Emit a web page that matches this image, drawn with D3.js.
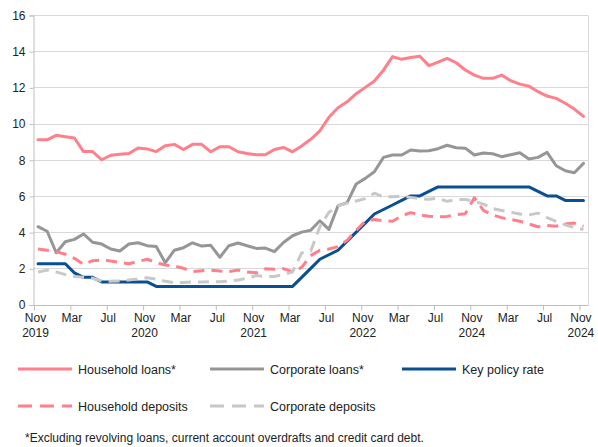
<!DOCTYPE html>
<html>
<head>
<meta charset="utf-8">
<script src="https://cdn.jsdelivr.net/npm/d3@7"></script>
<style>
  html, body { margin: 0; padding: 0; background: #fff; }
  svg { display: block; font-family: "Liberation Sans", Arial, sans-serif; }
</style>
</head>
<body>
<svg id="chart" width="598" height="447"></svg>
<script>
// ---- Data (monthly, Nov 2019 .. Nov 2024) ----
const tickLabels = ["Nov\n2019","Mar","Jul","Nov\n2020","Mar","Jul","Nov\n2021","Mar","Jul","Nov\n2022","Mar","Jul","Nov\n2024","Mar","Jul","Nov\n2024"];
const yTicks = [0, 2, 4, 6, 8, 10, 12, 14, 16];

const householdLoans = [9.1, 9.1, 9.35, 9.27, 9.2, 8.45, 8.45, 8.0, 8.25, 8.3, 8.35, 8.65, 8.6, 8.45, 8.77, 8.85, 8.57, 8.85, 8.85, 8.44, 8.72, 8.72, 8.44, 8.35, 8.28, 8.28, 8.57, 8.68, 8.44, 8.76, 9.13, 9.6, 10.35, 10.87, 11.2, 11.65, 12.0, 12.35, 12.95, 13.7, 13.55, 13.65, 13.72, 13.2, 13.4, 13.6, 13.36, 12.96, 12.68, 12.5, 12.5, 12.68, 12.37, 12.18, 12.07, 11.76, 11.52, 11.39, 11.12, 10.8, 10.4];
const corporateLoans = [4.3, 4.05, 2.86, 3.47, 3.6, 3.9, 3.44, 3.34, 3.07, 2.96, 3.34, 3.41, 3.25, 3.2, 2.31, 3.0, 3.14, 3.41, 3.23, 3.27, 2.61, 3.25, 3.4, 3.25, 3.1, 3.12, 2.92, 3.43, 3.8, 4.0, 4.1, 4.63, 4.15, 5.46, 5.63, 6.66, 6.97, 7.34, 8.13, 8.26, 8.26, 8.54, 8.48, 8.5, 8.61, 8.8, 8.66, 8.64, 8.26, 8.37, 8.33, 8.17, 8.28, 8.39, 8.04, 8.13, 8.41, 7.67, 7.39, 7.28, 7.8];
const keyPolicyRate = [2.25, 2.25, 2.25, 2.25, 1.75, 1.5, 1.5, 1.25, 1.25, 1.25, 1.25, 1.25, 1.25, 1.0, 1.0, 1.0, 1.0, 1.0, 1.0, 1.0, 1.0, 1.0, 1.0, 1.0, 1.0, 1.0, 1.0, 1.0, 1.0, 1.5, 2.0, 2.5, 2.75, 3.0, 3.5, 4.0, 4.5, 5.0, 5.25, 5.5, 5.75, 6.0, 6.0, 6.25, 6.5, 6.5, 6.5, 6.5, 6.5, 6.5, 6.5, 6.5, 6.5, 6.5, 6.5, 6.25, 6.0, 6.0, 5.75, 5.75, 5.75];
const householdDeposits = [3.07, 3.0, 2.92, 2.78, 2.55, 2.22, 2.42, 2.46, 2.4, 2.33, 2.25, 2.38, 2.5, 2.32, 2.18, 2.12, 2.0, 1.82, 1.87, 1.9, 1.85, 1.82, 1.9, 1.8, 1.75, 1.97, 1.95, 1.98, 1.8, 2.05, 2.7, 3.0, 3.07, 3.2, 3.55, 4.1, 4.6, 4.7, 4.62, 4.6, 4.9, 5.08, 4.95, 4.88, 4.85, 4.87, 4.97, 5.02, 5.9, 5.2, 4.95, 4.8, 4.7, 4.6, 4.45, 4.3, 4.37, 4.33, 4.45, 4.5, 4.32];
const corporateDeposits = [1.8, 1.9, 1.8, 1.65, 1.55, 1.5, 1.45, 1.3, 1.28, 1.3, 1.35, 1.42, 1.48, 1.4, 1.28, 1.2, 1.22, 1.25, 1.25, 1.26, 1.26, 1.3, 1.35, 1.45, 1.6, 1.55, 1.55, 1.65, 1.8, 2.85, 2.95, 4.3, 5.1, 5.45, 5.6, 5.72, 5.85, 6.15, 5.95, 5.95, 6.0, 5.92, 5.85, 5.82, 5.87, 5.7, 5.8, 5.8, 5.7, 5.55, 5.3, 5.2, 5.1, 5.0, 4.95, 5.05, 4.8, 4.6, 4.4, 4.25, 4.15];

const seriesNames = ["Household loans*", "Corporate loans*", "Key policy rate", "Household deposits", "Corporate deposits"];
const footnote = "*Excluding revolving loans, current account overdrafts and credit card debt.";

// ---- Styles ----
const styles = [
  { color: "#ff7f8a", dash: null },
  { color: "#969696", dash: null },
  { color: "#0a4f91", dash: null },
  { color: "#ff7f8a", dash: "11,7" },
  { color: "#c8c8c8", dash: "11,7" }
];
const seriesData = [householdLoans, corporateLoans, keyPolicyRate, householdDeposits, corporateDeposits];

const svg = d3.select("#chart");
const pLeft = 33.5, pRight = 588, pTop = 15, pBottom = 304.5;

const x = d3.scaleLinear().domain([0, 61]).range([pLeft, pRight]);
const y = d3.scaleLinear().domain([0, 16]).range([pBottom, pTop]);

// gridlines
svg.append("g").selectAll("line").data(yTicks.filter(d => d > 0)).join("line")
  .attr("x1", pLeft).attr("x2", pRight)
  .attr("y1", d => Math.round(y(d)) + 0.5).attr("y2", d => Math.round(y(d)) + 0.5)
  .attr("stroke", "#d9d9d9").attr("stroke-width", 1);
// right frame
svg.append("line").attr("x1", pRight + 0.5).attr("x2", pRight + 0.5)
  .attr("y1", Math.round(y(16)) + 0.5).attr("y2", Math.round(y(0)) + 0.5)
  .attr("stroke", "#d9d9d9");

// y axis
const yAxis = d3.axisLeft(y).tickValues(yTicks).tickSize(4).tickPadding(4).tickFormat(d3.format("d"));
const gy = svg.append("g").attr("transform", `translate(${Math.round(pLeft) - 0.5},0.5)`).call(yAxis);
gy.select(".domain").attr("stroke", "#bfbfbf");
gy.selectAll(".tick line").attr("stroke", "#bfbfbf");
gy.selectAll(".tick text").attr("font-size", 12).attr("fill", "#222").attr("font-family", "Liberation Sans, Arial, sans-serif");

// x axis
const xTickVals = d3.range(0, 61, 4);
const xAxis = d3.axisBottom(x).tickValues(xTickVals).tickSize(5).tickFormat("");
const gx = svg.append("g").attr("transform", `translate(0.5,${Math.round(pBottom) + 0.5})`).call(xAxis);
gx.select(".domain").attr("stroke", "#bfbfbf").attr("d", `M${pLeft},0H${pRight}`);
gx.selectAll(".tick line").attr("stroke", "#bfbfbf");
const xl = svg.append("g").selectAll("text").data(xTickVals).join("text")
  .attr("x", d => x(d) + 2)
  .attr("y", 322)
  .attr("text-anchor", "middle")
  .attr("font-size", 12).attr("fill", "#222");
xl.each(function(d, i) {
  const parts = tickLabels[i].split("\n");
  const t = d3.select(this);
  parts.forEach((p, k) => {
    t.append("tspan").attr("x", x(d) + 2).attr("dy", k === 0 ? 0 : 15).text(p);
  });
});

// lines
const line = d3.line().x((d, i) => x(i + 0.5)).y(d => y(d)).curve(d3.curveLinear);
seriesData.forEach((data, k) => {
  svg.append("path").datum(data)
    .attr("d", line)
    .attr("fill", "none")
    .attr("stroke", styles[k].color)
    .attr("stroke-width", 3)
    .attr("stroke-linejoin", "round")
    .attr("stroke-linecap", styles[k].dash ? "butt" : "round")
    .attr("stroke-dasharray", styles[k].dash);
});

// legend
const legendPos = [
  { x: 18, y: 369 }, { x: 210, y: 369 }, { x: 402, y: 369 },
  { x: 18, y: 406 }, { x: 210, y: 406 }
];
seriesNames.forEach((name, k) => {
  const p = legendPos[k];
  const g = svg.append("g");
  g.append("line").attr("x1", p.x).attr("x2", p.x + 54).attr("y1", p.y).attr("y2", p.y)
    .attr("stroke", styles[k].color).attr("stroke-width", 3)
    .attr("stroke-dasharray", styles[k].dash ? "14,8" : null);
  g.append("text").attr("x", p.x + 60).attr("y", p.y + 4.5)
    .attr("font-size", 12.5).attr("fill", "#222").text(name);
});

svg.append("text").attr("x", 25).attr("y", 442).attr("font-size", 12).attr("fill", "#222").text(footnote);
</script>
</body>
</html>
